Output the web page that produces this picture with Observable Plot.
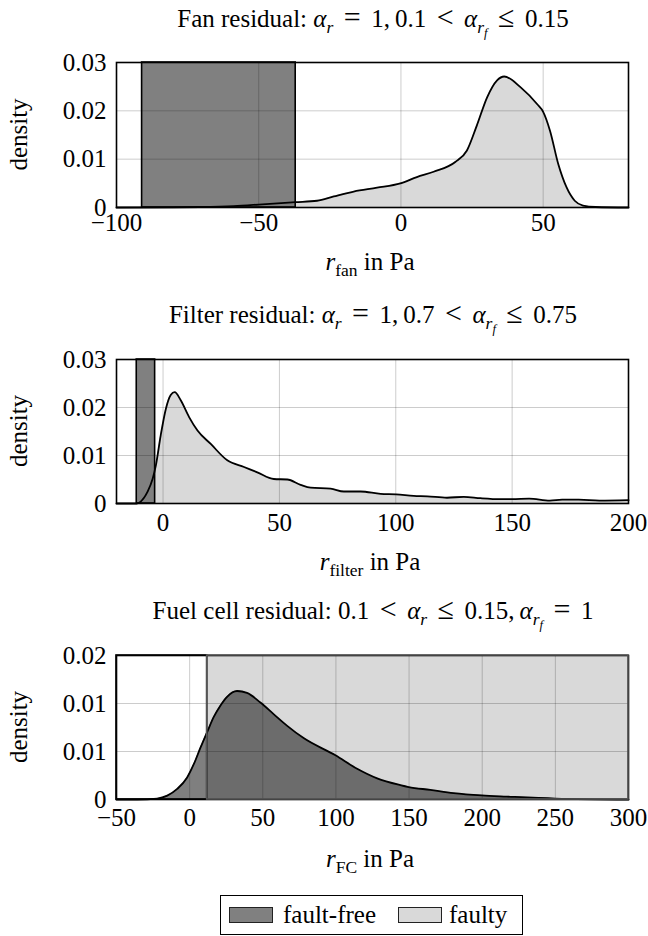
<!DOCTYPE html>
<html>
<head>
<meta charset="utf-8">
<script src="https://cdn.jsdelivr.net/npm/d3@7"></script>
<script src="https://cdn.jsdelivr.net/npm/@observablehq/plot@0.6"></script>
<style>
  html, body { margin: 0; padding: 0; background: white; }
  #wrap { position: relative; width: 648px; height: 936px; overflow: hidden; }
  #wrap svg { position: absolute; left: 0; }
  #legend { position: absolute; left: 220px; top: 895px; width: 301px; height: 38px;
    border: 1.6px solid black; display: flex; align-items: center;
    font-family: 'Liberation Serif', 'DejaVu Serif', serif; font-size: 25px; }
  .sw { display: inline-block; width: 42px; height: 14px; border: 1px solid #222; }
</style>
</head>
<body>
<div id="wrap"></div>
<script>
// ---------- data ----------
// Fan residual (faulty density) and fault-free interval
const fanX = [-100,-80,-70.5,-58.8,-50,-37.1,-29.5,-23.6,-16.6,-8.4,-0.2,5.6,11.5,19.1,23.2,26.7,30.3,33.8,36.3,42.2,48,50,52.4,55.3,58.2,61.1,64,68.4,80];
const fanD = [0,0.00003,0.0001,0.0003,0.0006,0.0011,0.0014,0.0023,0.0033,0.0041,0.005,0.0063,0.0074,0.0094,0.0118,0.017,0.0228,0.0263,0.0271,0.0248,0.0213,0.0198,0.0159,0.009,0.0042,0.0014,0.0004,0.0001,0];
const fanFaultFree = [-91, -37];
const fanXTicks = [-100, -50, 0, 50];
const fanYTicks = [0, 0.01, 0.02, 0.03];
const fanYTickLabels = ["0", "0.01", "0.02", "0.03"];

// Filter residual
const filterX = [-20,-11.3,-9.6,-6.7,-4.5,-3.1,-1,1.2,3.3,5,7.6,11.2,14.8,20.5,27.6,34.8,40.5,47.6,53.4,59.1,63.4,72,77.7,84.9,93.5,100.2,107.7,113.5,122,129.2,136.4,145,150,157.3,166.2,171.5,178.6,187.5,200];
const filterD = [0,0,0.0004,0.0024,0.0051,0.0079,0.0142,0.0197,0.0226,0.0232,0.0215,0.018,0.0152,0.0124,0.009,0.0076,0.0065,0.0051,0.005,0.0039,0.0033,0.0031,0.0025,0.0025,0.002,0.0019,0.0016,0.0015,0.0012,0.0014,0.0011,0.0009,0.0009,0.001,0.0006,0.0008,0.0008,0.0006,0.0007];
const filterFaultFree = [-11.3, -3.4];
const filterXTicks = [0, 50, 100, 150, 200];
const filterYTicks = [0, 0.01, 0.02, 0.03];
const filterYTickLabels = ["0", "0.01", "0.02", "0.03"];

// Fuel cell residual (fault-free density), faulty region
const fcX = [-50,-35.8,-22.2,-15.3,-8.5,-1.7,2.9,7.4,11.9,16.5,21.1,25.6,32.4,39.2,48.4,57.4,66.5,77.9,99.7,114.5,128.2,144,149.7,164.5,180.4,199.8,216.8,250,300];
const fcD = [0,0,0.0001,0.0004,0.0011,0.0023,0.0037,0.0054,0.007,0.0086,0.0098,0.0107,0.0113,0.0111,0.0101,0.0089,0.0077,0.0064,0.0046,0.0032,0.0022,0.0015,0.0013,0.001,0.00066,0.00042,0.0003,0.0001,0];
const fcFaultFree = [-50, 12];
const fcFaulty = [12, 300];
const fcXTicks = [-50, 0, 50, 100, 150, 200, 250, 300];
const fcYTicks = [0, 0.005, 0.01, 0.015];
const fcYTickLabels = ["0", "0.01", "0.01", "0.02"];

const legendLabels = ["fault-free", "faulty"];
const legendColors = ["#808080", "#d9d9d9"];

// ---------- helpers ----------
const FONT = "'Liberation Serif', 'DejaVu Serif', serif";
const FS = 25;
const DARK = "#808080", LIGHT = "#d9d9d9";
const REL = 0.42; // spacing around relation symbols, em
const RS = 1.2;   // relation glyph size factor
const toRows = (xs, ds) => xs.map((x, i) => ({x, d: ds[i]}));
const minus = d => d < 0 ? "\u2212" + Math.abs(d) : String(d);

function rich(svg, x, y, parts, opts = {}) {
  const t = d3.select(svg).append("text")
    .attr("x", x).attr("y", y)
    .attr("text-anchor", opts.anchor || "middle")
    .attr("font-family", FONT).attr("font-size", FS).attr("fill", "black");
  if (opts.transform) t.attr("transform", opts.transform);
  const sizes = [FS, FS * 0.7, FS * 0.5];
  const shift = [0, FS * 0.24, FS * 0.38];
  let level = 0;
  parts.forEach(p => {
    const lv = p.sub || 0;
    const ts = t.append("tspan").text(p.t).attr("font-size", sizes[lv] * (p.s || 1));
    if (p.i) ts.attr("font-style", "italic");
    if (lv !== level) ts.attr("dy", shift[lv] - shift[level]);
    if (p.dx) ts.attr("dx", p.dx * FS);
    level = lv;
  });
  return t;
}

function makePanel(cfg) {
  const svg = Plot.plot({
    width: 648, height: cfg.height,
    marginLeft: 116, marginRight: 20, marginTop: cfg.mt, marginBottom: cfg.mb,
    x: {domain: cfg.xDomain},
    y: {domain: cfg.yDomain},
    style: {fontFamily: FONT, fontSize: FS + "px", background: "transparent", overflow: "visible"},
    marks: [
      ...cfg.marks,
      Plot.gridX(cfg.xTicks, {stroke: "black", strokeOpacity: 0.2, strokeWidth: 1}),
      Plot.gridY(cfg.yTicks, {stroke: "black", strokeOpacity: 0.2, strokeWidth: 1}),
      Plot.frame({stroke: "black", strokeWidth: 1.6}),
      ...(cfg.top || []),
      Plot.axisX({ticks: cfg.xTicks, tickSize: 0, tickPadding: cfg.padX, tickFormat: minus, label: null,
        fontSize: FS, fontFamily: FONT}),
      Plot.axisY({ticks: cfg.yTicks, tickSize: 0, tickPadding: 10, label: null, fontSize: FS, fontFamily: FONT,
        tickFormat: d => cfg.yLabels[cfg.yTicks.indexOf(d)]})
    ]
  });
  svg.style.top = cfg.top0 + "px";
  const midY = (cfg.mt + cfg.height - cfg.mb) / 2;
  rich(svg, 0, 0, [{t: "density"}], {transform: `translate(27,${midY}) rotate(-90)`});
  rich(svg, 373, cfg.titleY, cfg.title);
  rich(svg, 370, cfg.labelY, cfg.xlabel);
  document.getElementById("wrap").appendChild(svg);
  return svg;
}

const lineOpts = {x: "x", y: "d", stroke: "black", strokeWidth: 1.8, curve: "monotone-x"};

// ---------- panel 1: fan ----------
const fan = toRows(fanX, fanD);
makePanel({
  top0: 0, height: 290, mt: 62, mb: 83, padX: 6,
  xDomain: [-100, 80], yDomain: [0, 0.03],
  xTicks: fanXTicks, yTicks: fanYTicks, yLabels: fanYTickLabels,
  titleY: 27, labelY: 270,
  title: [{t: "Fan residual: "}, {t: "α", i: 1}, {t: "r", i: 1, sub: 1}, {t: "=", dx: REL, s: RS},
          {t: "1,", dx: REL}, {t: "0.1", dx: 0.2}, {t: "<", dx: REL, s: RS}, {t: "α", i: 1, dx: REL},
          {t: "r", i: 1, sub: 1}, {t: "f", i: 1, sub: 2}, {t: "≤", dx: REL, s: RS}, {t: "0.15", dx: REL}],
  xlabel: [{t: "r", i: 1}, {t: "fan", sub: 1}, {t: " in Pa"}],
  marks: [
    Plot.areaY(fan, {x: "x", y: "d", fill: LIGHT, curve: "monotone-x"}),
    Plot.rect([fanFaultFree], {x1: d => d[0], x2: d => d[1], y1: () => 0, y2: () => 0.03, fill: DARK, stroke: "black", strokeWidth: 1.6}),
    Plot.lineY(fan, lineOpts)
  ]
});

// ---------- panel 2: filter ----------
const filt = toRows(filterX, filterD);
makePanel({
  top0: 290, height: 290, mt: 69, mb: 77, padX: 10,
  xDomain: [-20, 200], yDomain: [0, 0.03],
  xTicks: filterXTicks, yTicks: filterYTicks, yLabels: filterYTickLabels,
  titleY: 33, labelY: 280,
  title: [{t: "Filter residual: "}, {t: "α", i: 1}, {t: "r", i: 1, sub: 1}, {t: "=", dx: REL, s: RS},
          {t: "1,", dx: REL}, {t: "0.7", dx: 0.2}, {t: "<", dx: REL, s: RS}, {t: "α", i: 1, dx: REL},
          {t: "r", i: 1, sub: 1}, {t: "f", i: 1, sub: 2}, {t: "≤", dx: REL, s: RS}, {t: "0.75", dx: REL}],
  xlabel: [{t: "r", i: 1}, {t: "filter", sub: 1}, {t: " in Pa"}],
  marks: [
    Plot.areaY(filt, {x: "x", y: "d", fill: LIGHT, curve: "monotone-x"}),
    Plot.rect([filterFaultFree], {x1: d => d[0], x2: d => d[1], y1: () => 0, y2: () => 0.03, fill: DARK, stroke: "black", strokeWidth: 1.6}),
    Plot.lineY(filt, lineOpts)
  ]
});

// ---------- panel 3: fuel cell ----------
const fc = toRows(fcX, fcD);
makePanel({
  top0: 580, height: 300, mt: 75, mb: 81, padX: 9,
  xDomain: [-50, 300], yDomain: [0, 0.015],
  xTicks: fcXTicks, yTicks: fcYTicks, yLabels: fcYTickLabels,
  titleY: 39, labelY: 287,
  title: [{t: "Fuel cell residual: 0.1"}, {t: "<", dx: REL, s: RS}, {t: "α", i: 1, dx: REL}, {t: "r", i: 1, sub: 1},
          {t: "≤", dx: REL, s: RS}, {t: "0.15,", dx: REL}, {t: "α", i: 1, dx: 0.2}, {t: "r", i: 1, sub: 1}, {t: "f", i: 1, sub: 2},
          {t: "=", dx: REL, s: RS}, {t: "1", dx: REL}],
  xlabel: [{t: "r", i: 1}, {t: "FC", sub: 1}, {t: " in Pa"}],
  marks: [
    Plot.rect([fcFaulty], {x1: d => d[0], x2: d => d[1], y1: () => 0, y2: () => 0.015, fill: LIGHT}),
    Plot.rect([fcFaultFree], {x1: d => d[0], x2: d => d[1], y1: () => 0, y2: () => 0.015, fill: "white"}),
    Plot.areaY(fc, {x: "x", y: "d", fill: "black", fillOpacity: 0.5, curve: "monotone-x"}),
    Plot.rect([fcFaultFree], {x1: d => d[0], x2: d => d[1], y1: () => 0, y2: () => 0.015, fill: "none", stroke: "black", strokeWidth: 1.6}),
    Plot.lineY(fc, lineOpts)
  ],
  top: [
    Plot.rect([fcFaulty], {x1: d => d[0], x2: d => d[1], y1: () => 0, y2: () => 0.015, fill: "none", stroke: "#555", strokeWidth: 1.6})
  ]
});

// ---------- legend ----------
const leg = document.createElement("div");
leg.id = "legend";
legendLabels.forEach((lab, i) => {
  const sw = document.createElement("span");
  sw.className = "sw";
  sw.style.background = legendColors[i];
  sw.style.marginLeft = i === 0 ? "8px" : "22px";
  const tx = document.createElement("span");
  tx.textContent = lab;
  tx.style.marginLeft = i === 0 ? "10px" : "7px";
  leg.appendChild(sw); leg.appendChild(tx);
});
document.getElementById("wrap").appendChild(leg);
</script>
</body>
</html>
